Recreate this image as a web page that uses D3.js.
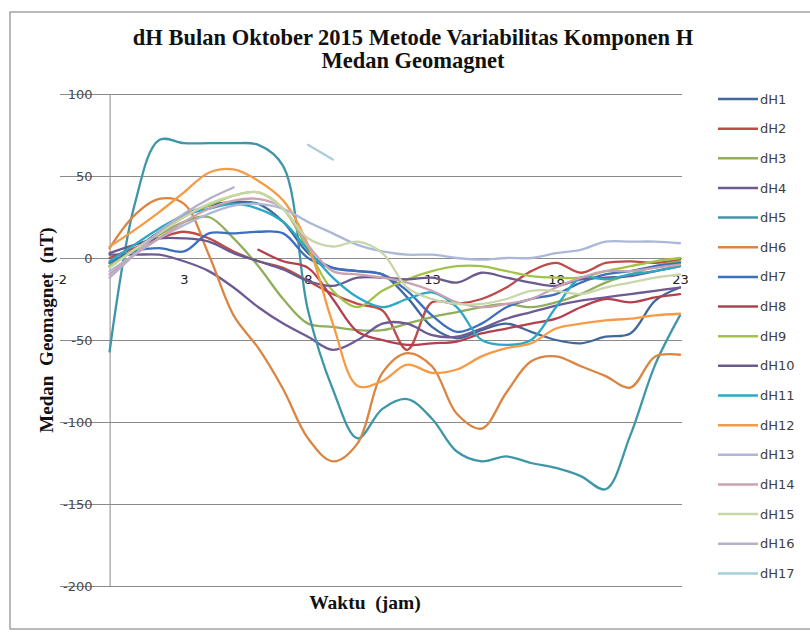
<!DOCTYPE html>
<html>
<head>
<meta charset="utf-8">
<script src="https://cdn.jsdelivr.net/npm/d3@7"></script>
<style>
  body { margin: 0; background: #fff; }
  svg { display: block; }
</style>
</head>
<body>
<script>
// hours on the x axis
const hours = [0, 1, 2, 3, 4, 5, 6, 7, 8, 9, 10, 11, 12, 13, 14, 15, 16, 17, 18, 19, 20, 21, 22, 23];

// series values (null = no point)
const dH1 = [-5, 5, 16, 26, 32, 34, 33, 22, 3, -6, -8, -10, -24, -42, -49, -44, -40, -45, -50, -52, -48, -46, -26, -18];
const dH2 = [0, 6, 12, 16, 12, 4, -2, -6, -14, -22, -28, -32, -56, -27, -28, -25, -18, -8, -3, -9, -3, -2, -3, -1];
const dH3 = [-3, 5, 14, 22, 25, 12, -5, -25, -40, -42, -44, -44, -40, -36, -33, -30, -28, -30, -27, -22, -15, -10, -5, -2];
const dH4 = [2, 2, 2, -2, -8, -18, -30, -40, -48, -56, -50, -40, -40, -47, -48, -43, -37, -33, -29, -26, -24, -22, -20, -18];
const dH5 = [-57, 32, 72, 70, 70, 70, 69, 56, -32, -80, -110, -92, -86, -98, -118, -124, -121, -125, -128, -133, -141, -108, -65, -35];
const dH6 = [6, 26, 36, 33, 2, -35, -55, -80, -110, -124, -113, -70, -58, -66, -95, -104, -82, -63, -60, -66, -72, -79, -60, -59];
const dH7 = [-3, 4, 6, 4, 15, 15, 16, 15, 0, -6, -8, -10, -20, -35, -45, -40, -30, -25, -22, -15, -10, -8, -5, -3];
const dH8 = [null, null, null, null, null, null, 5, -2, -6, -25, -45, -50, -53, -52, -51, -46, -43, -40, -37, -30, -25, -27, -24, -22];
const dH9 = [-5, 5, 15, 25, 32, 38, 40, 30, 5, -20, -30, -20, -13, -8, -5, -5, -8, -11, -12, -12, -8, -5, -2, 0];
const dH10 = [3, 8, 12, 12, 10, 3, -2, -7, -14, -17, -12, -12, -13, -12, -15, -9, -12, -15, -17, -13, -12, -11, -8, -5];
const dH11 = [-2, 8, 18, 26, 30, 33, 30, 22, 5, -12, -24, -30, -25, -21, -30, -50, -53, -50, -30, -12, -13, -10, -8, -5];
const dH12 = [7, 17, 28, 40, 52, 54, 47, 35, 8, -40, -78, -75, -65, -70, -68, -60, -55, -52, -43, -40, -38, -37, -35, -34];
const dH13 = [-8, 2, 12, 20, 27, 32, 33, 30, 22, 15, 8, 4, 2, 2, 0, -1, 0, 0, 3, 5, 10, 10, 10, 9];
const dH14 = [-10, 2, 12, 22, 30, 35, 36, 30, 8, -8, -10, -12, -15, -20, -27, -30, -28, -25, -18, -12, -8, -8, -6, -4];
const dH15 = [-6, 5, 15, 25, 33, 38, 40, 30, 12, 7, 10, 3, -18, -25, -28, -28, -25, -20, -20, -22, -18, -15, -12, -10];
const dH16 = [-12, 2, 16, 27, 36, 43, null, null, null, null, null, null, null, null, null, null, null, null, null, null, null, null, null, null];
const dH17 = [null, null, null, null, null, null, null, null, 69, 60, null, null, null, null, null, null, null, null, null, null, null, null, null, null];

const seriesNames = ['dH1', 'dH2', 'dH3', 'dH4', 'dH5', 'dH6', 'dH7', 'dH8', 'dH9', 'dH10', 'dH11', 'dH12', 'dH13', 'dH14', 'dH15', 'dH16', 'dH17'];
const seriesValues = [dH1, dH2, dH3, dH4, dH5, dH6, dH7, dH8, dH9, dH10, dH11, dH12, dH13, dH14, dH15, dH16, dH17];
const seriesColors = ['#41689A', '#BE4B48', '#90AE5C', '#6E5A94', '#3E96A8', '#DB8542', '#3D6FC0', '#B2404E', '#A2C24A',
    '#6A5B8E', '#2AA8C4', '#F59B45', '#ACB8D8', '#CBA3B0', '#C8D6AA', '#B7AFC9', '#A9CFDA'];

const xTicks = [-2, 3, 8, 13, 18, 23];
const yTicks = [-200, -150, -100, -50, 0, 50, 100];

const W = 810, H = 633;

const svg = d3.select('body').append('svg')
    .attr('width', W)
    .attr('height', H);

// chart border
svg.append('rect')
    .attr('x', 10).attr('y', 12)
    .attr('width', W).attr('height', 617)
    .attr('fill', 'none')
    .attr('stroke', '#8c8c8c')
    .attr('stroke-width', 1.2);

const x = d3.scaleLinear().domain([-2, 23]).range([60, 680]);
const y = d3.scaleLinear().domain([-200, 100]).range([586, 94]);

const plain = d => String(d); // keep the ascii hyphen for negatives

// gridlines (they run from the x minimum, through the tick labels)
svg.append('g')
    .attr('transform', `translate(${x(-2)},0)`)
    .call(d3.axisLeft(y).tickValues(yTicks).tickSize(-(x(23) + 2 - x(-2))).tickFormat(''))
    .call(g => g.select('.domain').remove())
    .call(g => g.selectAll('line').attr('stroke', '#8a8a8a'));

// y axis at x = 0
svg.append('g')
    .attr('transform', `translate(${x(0)},0)`)
    .call(d3.axisLeft(y).tickValues(yTicks).tickSize(0).tickPadding(17).tickFormat(plain))
    .call(g => g.select('.domain').attr('stroke', '#8a8a8a'))
    .call(g => g.selectAll('text')
        .style('font-family', '"DejaVu Sans", sans-serif')
        .style('font-size', '13px')
        .attr('fill', '#4a4a4a'));

// x axis labels sit under the zero line
svg.append('g')
    .attr('transform', `translate(0,${y(0)})`)
    .call(d3.axisBottom(x).tickValues(xTicks).tickSize(0).tickPadding(17).tickFormat(plain))
    .call(g => g.select('.domain').remove())
    .call(g => g.selectAll('text')
        .style('font-family', '"DejaVu Sans", sans-serif')
        .style('font-size', '13px')
        .attr('fill', '#202020'));

// lines
const line = d3.line()
    .defined(d => d[1] !== null)
    .x(d => x(d[0]))
    .y(d => y(d[1]))
    .curve(d3.curveCatmullRom.alpha(0.5));

seriesValues.forEach((vals, i) => {
    svg.append('path')
        .datum(hours.map((h, k) => [h, vals[k]]))
        .attr('fill', 'none')
        .attr('stroke', seriesColors[i])
        .attr('stroke-width', 2.3)
        .attr('stroke-linejoin', 'round')
        .attr('stroke-linecap', 'round')
        .attr('d', line);
});

// legend
const legend = svg.append('g').attr('transform', 'translate(718,99)');
seriesNames.forEach((name, i) => {
    const row = legend.append('g').attr('transform', `translate(0,${i * 29.65})`);
    row.append('line')
        .attr('x1', 0).attr('x2', 40)
        .attr('stroke', seriesColors[i])
        .attr('stroke-width', 2.5);
    row.append('text')
        .attr('x', 42).attr('dy', '0.35em')
        .style('font-family', '"DejaVu Sans", sans-serif')
        .style('font-size', '13px')
        .attr('fill', '#404040')
        .text(name);
});

// titles
const title = svg.append('text')
    .attr('text-anchor', 'middle')
    .style('font-family', '"Liberation Serif", serif')
    .style('font-weight', 'bold')
    .style('font-size', '22.5px')
    .attr('fill', '#111');
title.append('tspan').attr('x', 413).attr('y', 45).text('dH Bulan Oktober 2015 Metode Variabilitas Komponen H');
title.append('tspan').attr('x', 413).attr('y', 68).text('Medan Geomagnet');

svg.append('text')
    .attr('transform', 'translate(53,330) rotate(-90)')
    .attr('text-anchor', 'middle')
    .style('font-family', '"Liberation Serif", serif')
    .style('font-weight', 'bold')
    .style('font-size', '19px')
    .style('word-spacing', '5px')
    .attr('fill', '#111')
    .text('Medan Geomagnet (nT)');

svg.append('text')
    .attr('x', 365).attr('y', 609)
    .attr('text-anchor', 'middle')
    .style('font-family', '"Liberation Serif", serif')
    .style('font-weight', 'bold')
    .style('font-size', '19.5px')
    .style('word-spacing', '5px')
    .attr('fill', '#111')
    .text('Waktu (jam)');
</script>
</body>
</html>
